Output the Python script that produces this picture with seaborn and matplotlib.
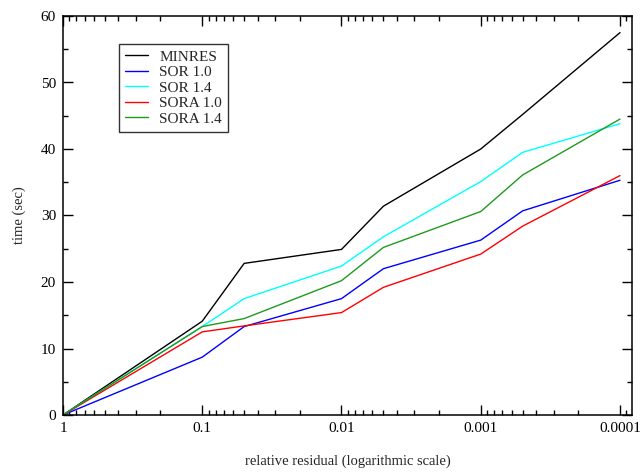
import numpy as np
import pandas as pd
import seaborn as sns
import matplotlib as mpl
import matplotlib.pyplot as plt
from matplotlib.ticker import FixedLocator, FixedFormatter, LogLocator, NullFormatter, MultipleLocator

# relative residual levels (x) and timings (sec) per solver
residual = [1, 0.1, 0.05, 0.01, 0.005, 0.001, 0.0005, 0.0001]
minres = [0, 14.1, 22.8, 24.9, 31.4, 40.0, 45.2, 57.5]
sor_10 = [0, 8.7, 13.3, 17.5, 22.0, 26.3, 30.7, 35.3]
sor_14 = [0, 13.3, 17.5, 22.4, 26.8, 35.1, 39.5, 43.8]
sora_10 = [0, 12.5, 13.4, 15.4, 19.2, 24.2, 28.4, 36.0]
sora_14 = [0, 13.3, 14.5, 20.2, 25.2, 30.6, 36.1, 44.5]

series = ['MINRES', 'SOR 1.0', 'SOR 1.4', 'SORA 1.0', 'SORA 1.4']
colors = ['black', '#0000ff', '#00ffff', '#ff0000', '#1e9b1e']
tick_vals = [1, 0.1, 0.01, 0.001, 0.0001]
tick_labels = ['1', '0.1', '0.01', '0.001', '0.0001']

df = pd.concat([
    pd.DataFrame({'residual': residual, 'time': vals, 'solver': name})
    for name, vals in zip(series, [minres, sor_10, sor_14, sora_10, sora_14])
])

sns.set_style('ticks')
plt.rcParams['font.family'] = ['Liberation Serif', 'DejaVu Serif']
mpl.rcParams.update({'font.size': 10})

fig = plt.figure(figsize=(6.4, 4.73), dpi=100)
ax = fig.add_axes([63/640, 58/473, 569/640, 399/473])

sns.lineplot(data=df, x='residual', y='time', hue='solver', palette=colors,
             hue_order=series, estimator=None, sort=False, lw=1.0, ax=ax)

ax.set_xscale('log')
ax.set_xlim(1, 8.2e-5)
ax.set_ylim(0, 60)
ax.xaxis.set_major_locator(FixedLocator(tick_vals))
ax.xaxis.set_major_formatter(FixedFormatter(tick_labels))
ax.xaxis.set_minor_locator(LogLocator(base=10, subs=np.arange(2, 10)))
ax.xaxis.set_minor_formatter(NullFormatter())
ax.yaxis.set_major_locator(MultipleLocator(10))
ax.yaxis.set_minor_locator(MultipleLocator(5))

ax.tick_params(which='both', direction='in', top=True, right=True, width=1, colors='black', labelsize=11, pad=5)
ax.tick_params(which='major', length=7)
ax.tick_params(which='minor', length=3.6)
for sp in ax.spines.values():
    sp.set_linewidth(1.1)
    sp.set_color('black')

ax.set_xlabel('relative residual (logarithmic scale)', fontsize=10.5, labelpad=14)
ax.set_ylabel('time (sec)', fontsize=10.5, labelpad=11)

leg = ax.legend(loc='upper left', bbox_to_anchor=(0.098, 0.93), fontsize=11,
                frameon=True, fancybox=False, handlelength=1.5, handletextpad=0.75,
                borderpad=0.4, labelspacing=0.12, borderaxespad=0)
leg.get_frame().set_edgecolor('black')
leg.get_frame().set_linewidth(1.0)
for h in leg.get_lines():
    h.set_linewidth(1.0)

fig.savefig('out.png', dpi=100)
